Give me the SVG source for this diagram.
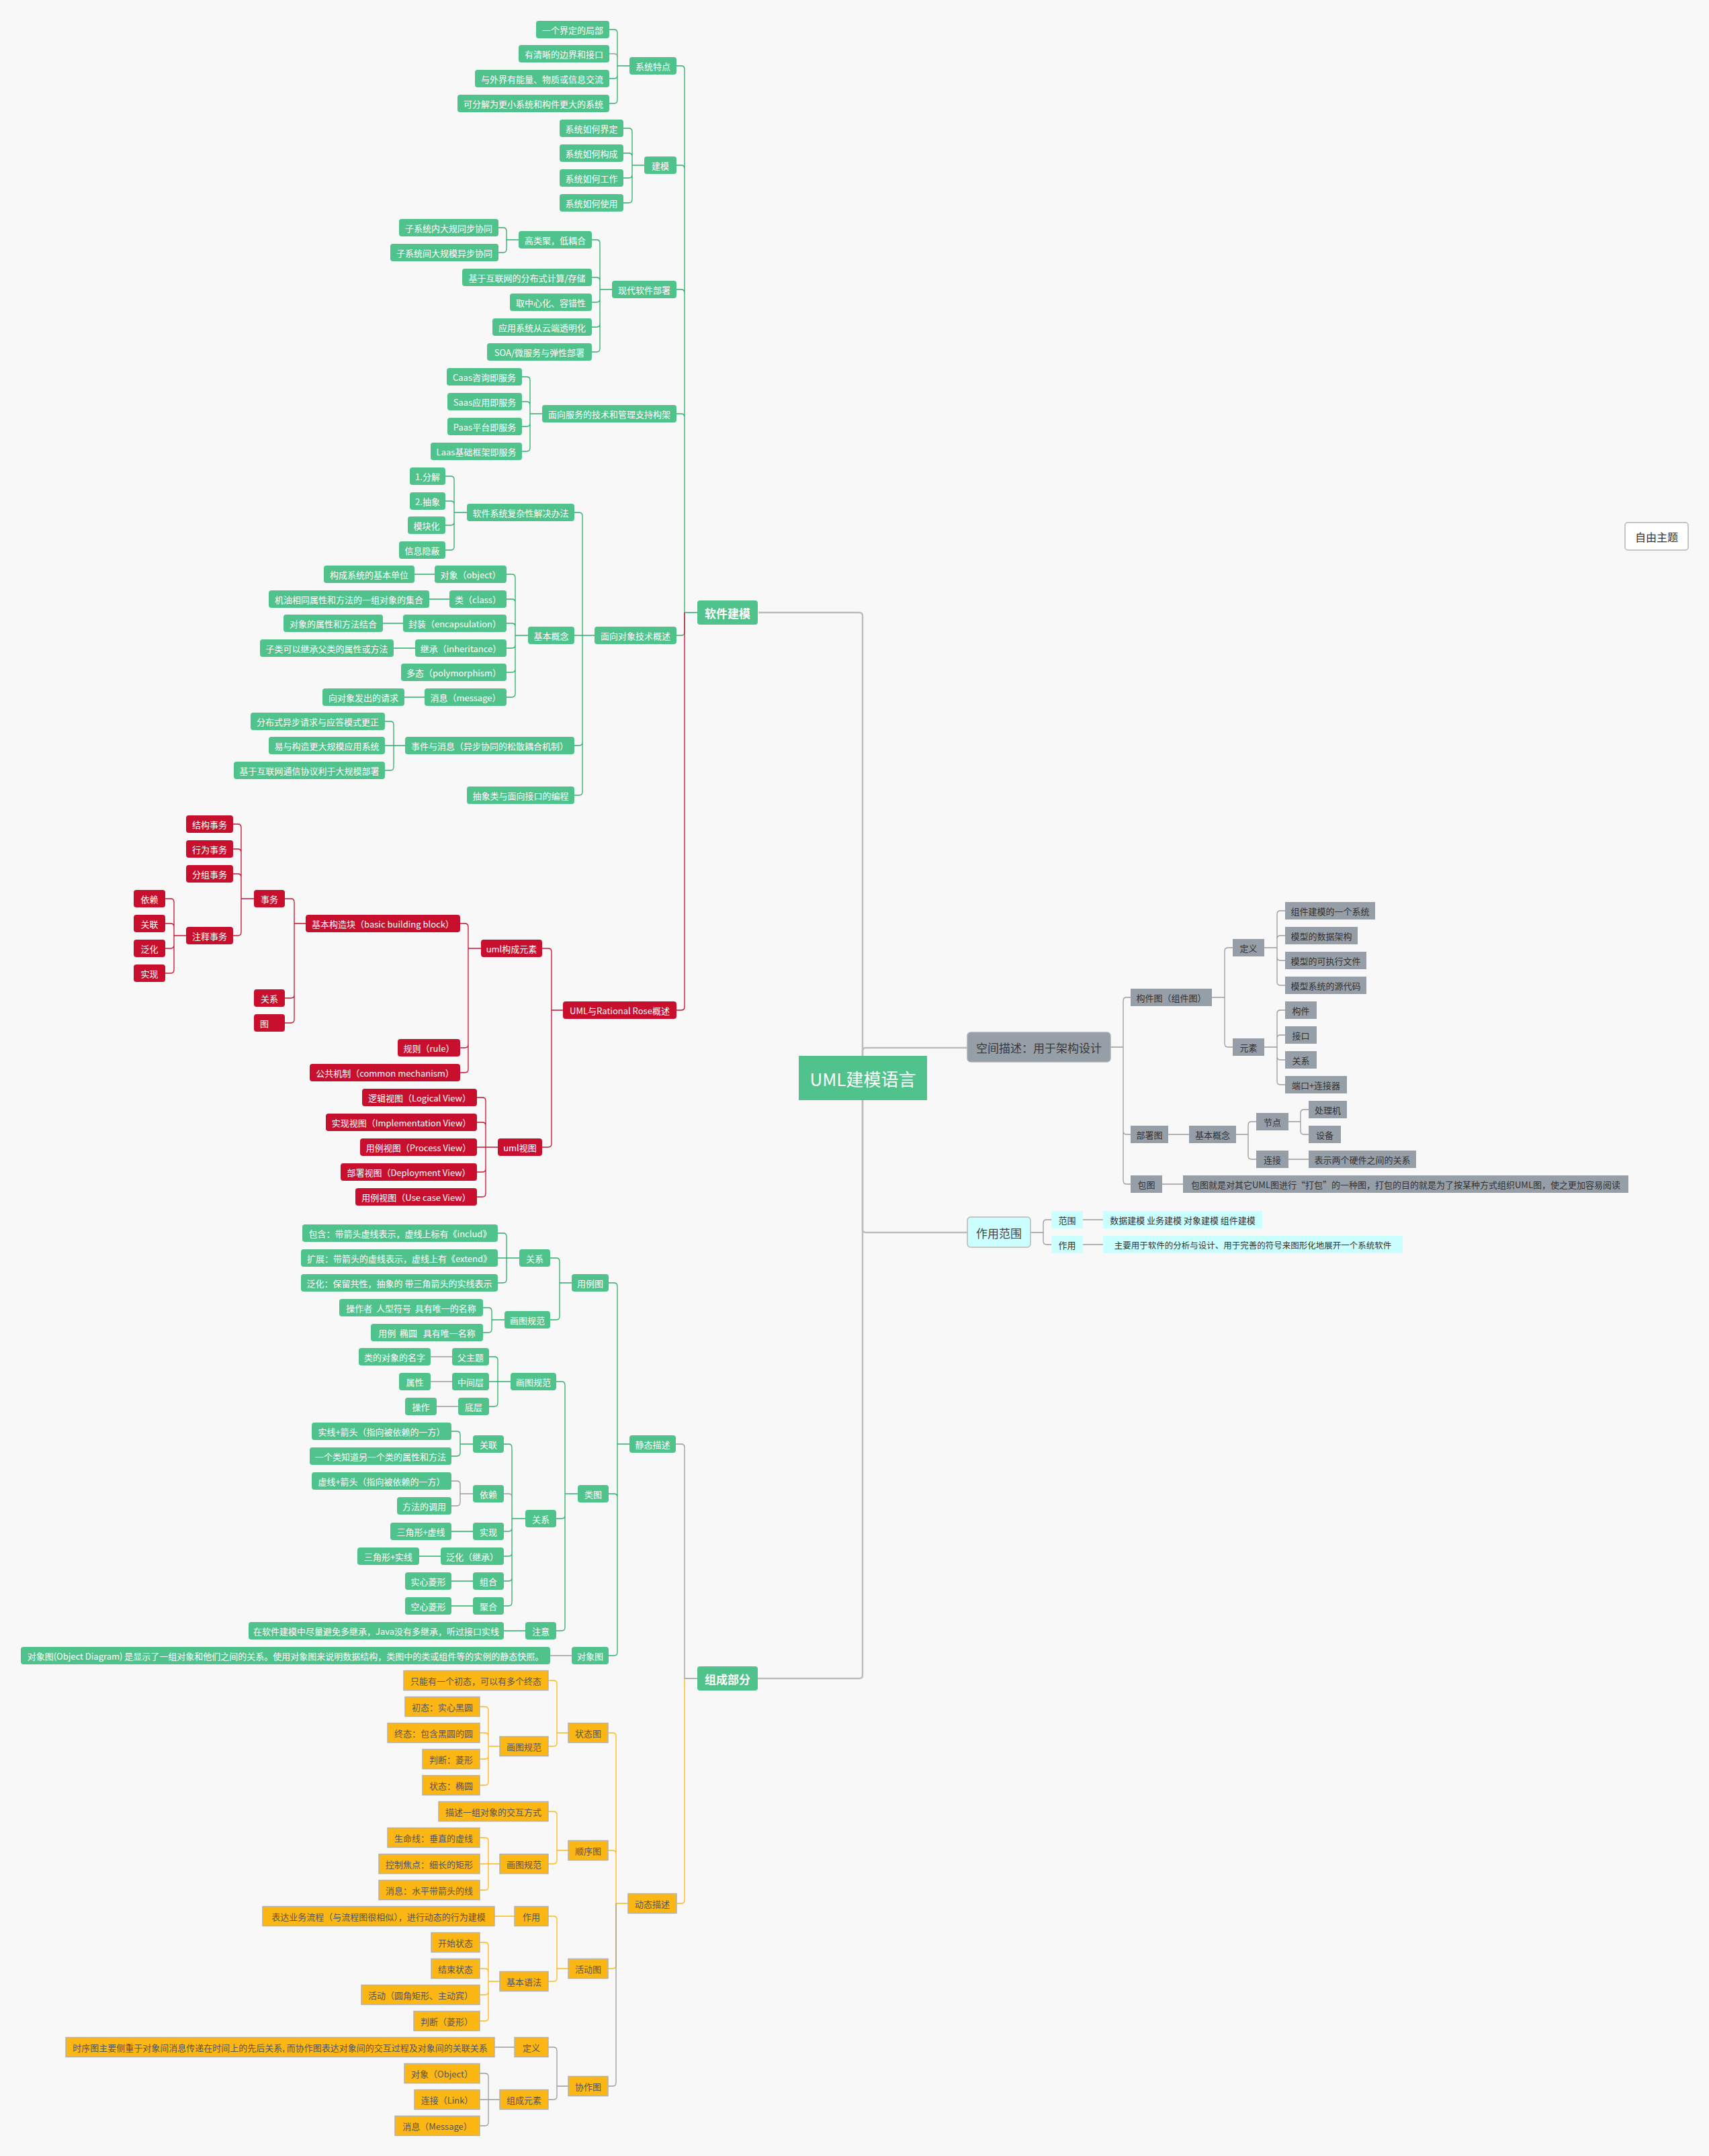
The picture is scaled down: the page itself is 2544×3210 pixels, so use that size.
<svg xmlns="http://www.w3.org/2000/svg" width="2544" height="3210" viewBox="0 0 2544 3210">
<style>
text{font-family:"Noto Sans CJK SC","Microsoft YaHei","Noto Sans",sans-serif;font-size:13px;text-anchor:middle;dominant-baseline:central}
.g{fill:#50c28b}.r{fill:#c8102e}.s{fill:#969ea7}.y{fill:#fdb714;stroke:#b2b2b2;stroke-width:1.5}.c{fill:#ccffff}
.w{fill:#ffffff}.d{fill:#333333}.yt{fill:#555555}
.l{fill:none;stroke-width:1.3}.lg{stroke:#2fae6a}.lr{stroke:#c8102e}.ls{stroke:#9a9a9a}.ly{stroke:#fdb714}
.lt{fill:none;stroke:#bdbdbd;stroke-width:2.5}
.big{font-size:17px}
</style>
<rect width="2544" height="3210" fill="#f8f8f8"/>
<g id="connectors">
<path class="lt" d="M 1129 912 H 1279 Q 1284 912 1284 917 V 2494 Q 1284 2499 1279 2499 H 1128"/>
<path class="lt" d="M 1284 1600 V 1565 Q 1284 1560 1289 1560 H 1440"/>
<path class="lt" d="M 1284 1630 V 1830 Q 1284 1835 1289 1835 H 1440"/>
<path class="l lg" d="M 1038 912 H 1019 M 1019 103 V 941 M 1019 103 Q 1019 98 1014 98 H 1007 M 1019 251 Q 1019 246 1014 246 H 1007 M 1019 436 Q 1019 431 1014 431 H 1007 M 1019 621 Q 1019 616 1014 616 H 1007 M 1019 941 Q 1019 946 1014 946 H 1007"/>
<path class="l lr" d="M 1019 912 V 1499 Q 1019 1504 1014 1504 H 1007"/>
<path class="l lg" d="M 937 98 H 919 M 919 49 V 149 M 919 49 Q 919 44 914 44 H 907 M 919 112 Q 919 117 914 117 H 907 M 919 149 Q 919 154 914 154 H 907"/>
<path class="l ls" d="M 919 85 Q 919 80 914 80 H 907"/>
<path class="l lg" d="M 959 246 H 941 M 941 196 V 297 M 941 196 Q 941 191 936 191 H 928 M 941 233 Q 941 228 936 228 H 928 M 941 260 Q 941 265 936 265 H 928 M 941 297 Q 941 302 936 302 H 928"/>
<path class="l lg" d="M 911 431 H 893 M 893 362 V 519 M 893 362 Q 893 357 888 357 H 881 M 893 418 Q 893 413 888 413 H 881 M 893 445 Q 893 450 888 450 H 881 M 893 482 Q 893 487 888 487 H 881 M 893 519 Q 893 524 888 524 H 881"/>
<path class="l lg" d="M 772 357 H 754 M 754 344 V 371 M 754 344 Q 754 339 749 339 H 742 M 754 371 Q 754 376 749 376 H 742"/>
<path class="l lg" d="M 807 616 H 789 M 789 566 V 667 M 789 566 Q 789 561 784 561 H 777 M 789 603 Q 789 598 784 598 H 777 M 789 630 Q 789 635 784 635 H 777 M 789 667 Q 789 672 784 672 H 777"/>
<path class="l lg" d="M 885 946 H 855 M 867 768 V 1179 M 867 768 Q 867 763 862 763 H 855 M 867 1105 Q 867 1110 862 1110 H 855 M 867 1179 Q 867 1184 862 1184 H 855"/>
<path class="l lg" d="M 695 763 H 676 M 676 714 V 814 M 676 714 Q 676 709 671 709 H 663 M 676 751 Q 676 746 671 746 H 663 M 676 777 Q 676 782 671 782 H 663 M 676 814 Q 676 819 671 819 H 663"/>
<path class="l lg" d="M 786 946 H 767 M 767 860 V 1033 M 767 860 Q 767 855 762 855 H 754 M 767 897 Q 767 892 762 892 H 754 M 767 933 Q 767 928 762 928 H 754 M 767 960 Q 767 965 762 965 H 754 M 767 996 Q 767 1001 762 1001 H 754 M 767 1033 Q 767 1038 762 1038 H 754"/>
<path class="l lg" d="M 647 855 H 617 M 669 892 H 639 M 600 928 H 570 M 618 965 H 586 M 632 1038 H 602"/>
<path class="l lg" d="M 603 1110 H 573 M 586 1079 V 1142 M 586 1079 Q 586 1074 581 1074 H 573 M 586 1142 Q 586 1147 581 1147 H 573"/>
<path class="l lr" d="M 838 1504 H 821 M 821 1417 V 1703 M 821 1417 Q 821 1412 816 1412 H 807 M 821 1703 Q 821 1708 816 1708 H 807"/>
<path class="l lr" d="M 716 1412 H 697 M 697 1380 V 1592 M 697 1380 Q 697 1375 692 1375 H 685 M 697 1555 Q 697 1560 692 1560 H 685 M 697 1592 Q 697 1597 692 1597 H 685"/>
<path class="l lr" d="M 455 1375 H 438 M 438 1343 V 1518 M 438 1343 Q 438 1338 433 1338 H 424 M 438 1481 Q 438 1486 433 1486 H 424 M 438 1518 Q 438 1523 433 1523 H 424"/>
<path class="l lr" d="M 378 1338 H 359 M 359 1232 V 1388 M 359 1232 Q 359 1227 354 1227 H 347 M 359 1269 Q 359 1264 354 1264 H 347 M 359 1306 Q 359 1301 354 1301 H 347 M 359 1388 Q 359 1393 354 1393 H 347"/>
<path class="l lr" d="M 277 1393 H 259 M 259 1343 V 1444 M 259 1343 Q 259 1338 254 1338 H 246 M 259 1380 Q 259 1375 254 1375 H 246 M 259 1407 Q 259 1412 254 1412 H 246 M 259 1444 Q 259 1449 254 1449 H 246"/>
<path class="l lr" d="M 741 1708 H 710 M 723 1639 V 1777 M 723 1639 Q 723 1634 718 1634 H 710 M 723 1676 Q 723 1671 718 1671 H 710 M 723 1740 Q 723 1745 718 1745 H 710 M 723 1777 Q 723 1782 718 1782 H 710"/>
<path class="l ls" d="M 1653 1559 H 1672 M 1672 1490 V 1758 M 1672 1490 Q 1672 1485 1677 1485 H 1683 M 1672 1684 Q 1672 1689 1677 1689 H 1683 M 1672 1758 Q 1672 1763 1677 1763 H 1683"/>
<path class="l ls" d="M 1804 1485 H 1823 M 1823 1416 V 1554 M 1823 1416 Q 1823 1411 1828 1411 H 1835 M 1823 1554 Q 1823 1559 1828 1559 H 1835"/>
<path class="l ls" d="M 1882 1411 H 1901 M 1901 1361 V 1462 M 1901 1361 Q 1901 1356 1906 1356 H 1913 M 1901 1398 Q 1901 1393 1906 1393 H 1913 M 1901 1425 Q 1901 1430 1906 1430 H 1913 M 1901 1462 Q 1901 1467 1906 1467 H 1913"/>
<path class="l ls" d="M 1882 1559 H 1901 M 1901 1509 V 1610 M 1901 1509 Q 1901 1504 1906 1504 H 1913 M 1901 1546 Q 1901 1541 1906 1541 H 1913 M 1901 1573 Q 1901 1578 1906 1578 H 1913 M 1901 1610 Q 1901 1615 1906 1615 H 1913"/>
<path class="l ls" d="M 1739 1689 H 1770 M 1840 1689 H 1858 M 1858 1675 V 1721 M 1858 1675 Q 1858 1670 1863 1670 H 1870 M 1858 1721 Q 1858 1726 1863 1726 H 1870"/>
<path class="l ls" d="M 1918 1670 H 1936 M 1936 1657 V 1684 M 1936 1657 Q 1936 1652 1941 1652 H 1948 M 1936 1684 Q 1936 1689 1941 1689 H 1948 M 1918 1726 H 1948 M 1730 1763 H 1761"/>
<path class="l ls" d="M 1534 1835 H 1553 M 1553 1821 V 1848 M 1553 1821 Q 1553 1816 1558 1816 H 1565 M 1553 1848 Q 1553 1853 1558 1853 H 1565 M 1612 1816 H 1642 M 1612 1853 H 1642"/>
<path class="l ls" d="M 1038 2499 H 1019 V 2155 Q 1019 2150 1014 2150 H 1006"/>
<path class="l ly" d="M 1019 2499 V 2829 Q 1019 2834 1014 2834 H 1007"/>
<path class="l lg" d="M 937 2150 H 919 M 919 1915 V 2460 M 919 1915 Q 919 1910 914 1910 H 906 M 919 2229 Q 919 2224 914 2224 H 906 M 919 2460 Q 919 2465 914 2465 H 906"/>
<path class="l lg" d="M 851 1910 H 833 M 833 1878 V 1960 M 833 1878 Q 833 1873 828 1873 H 819 M 833 1960 Q 833 1965 828 1965 H 819"/>
<path class="l lg" d="M 773 1873 H 741 M 754 1841 V 1905 M 754 1841 Q 754 1836 749 1836 H 741 M 754 1905 Q 754 1910 749 1910 H 741"/>
<path class="l lg" d="M 751 1965 H 732 M 732 1952 V 1979 M 732 1952 Q 732 1947 727 1947 H 719 M 732 1979 Q 732 1984 727 1984 H 719"/>
<path class="l lg" d="M 860 2224 H 841 M 841 2062 V 2423 M 841 2062 Q 841 2057 836 2057 H 828 M 841 2256 Q 841 2261 836 2261 H 828 M 841 2423 Q 841 2428 836 2428 H 828"/>
<path class="l lg" d="M 760 2057 H 728 M 741 2025 V 2089 M 741 2025 Q 741 2020 736 2020 H 728 M 741 2089 Q 741 2094 736 2094 H 728"/>
<path class="l ls" d="M 673 2020 H 641 M 673 2057 H 641 M 682 2094 H 650"/>
<path class="l lg" d="M 782 2261 H 762 M 762 2155 V 2386 M 762 2155 Q 762 2150 757 2150 H 750 M 762 2275 Q 762 2280 757 2280 H 750 M 762 2312 Q 762 2317 757 2317 H 750 M 762 2349 Q 762 2354 757 2354 H 750 M 762 2386 Q 762 2391 757 2391 H 750"/>
<path class="l ls" d="M 762 2229 Q 762 2224 757 2224 H 750"/>
<path class="l lg" d="M 704 2280 H 672 M 656 2317 H 624 M 704 2354 H 672 M 704 2391 H 672 M 782 2428 H 750"/>
<path class="l lg" d="M 704 2150 H 685 M 685 2136 V 2163 M 685 2136 Q 685 2131 680 2131 H 672 M 685 2163 Q 685 2168 680 2168 H 672"/>
<path class="l ls" d="M 704 2224 H 685 M 685 2210 V 2237 M 685 2210 Q 685 2205 680 2205 H 672 M 685 2237 Q 685 2242 680 2242 H 672 M 851 2465 H 819"/>
<path class="l ly" d="M 935 2834 H 917 M 917 2585 V 2926 M 917 2585 Q 917 2580 912 2580 H 905 M 917 2760 Q 917 2755 912 2755 H 905 M 917 2926 Q 917 2931 912 2931 H 905"/>
<path class="l ls" d="M 917 2834 V 3101 Q 917 3106 912 3106 H 905"/>
<path class="l ly" d="M 846 2580 H 829 M 829 2507 V 2595 M 829 2507 Q 829 2502 824 2502 H 816 M 829 2595 Q 829 2600 824 2600 H 816"/>
<path class="l ly" d="M 744 2600 H 727 M 727 2546 V 2653 M 727 2546 Q 727 2541 722 2541 H 714 M 727 2585 Q 727 2580 722 2580 H 714 M 727 2614 Q 727 2619 722 2619 H 714 M 727 2653 Q 727 2658 722 2658 H 714"/>
<path class="l ly" d="M 846 2755 H 829 M 829 2702 V 2770 M 829 2702 Q 829 2697 824 2697 H 816 M 829 2770 Q 829 2775 824 2775 H 816"/>
<path class="l ly" d="M 744 2775 H 714 M 727 2741 V 2809 M 727 2741 Q 727 2736 722 2736 H 714 M 727 2809 Q 727 2814 722 2814 H 714"/>
<path class="l ly" d="M 846 2931 H 829 M 829 2858 V 2945 M 829 2858 Q 829 2853 824 2853 H 816 M 829 2945 Q 829 2950 824 2950 H 816 M 766 2853 H 736"/>
<path class="l ly" d="M 744 2950 H 727 M 727 2897 V 3004 M 727 2897 Q 727 2892 722 2892 H 714 M 727 2936 Q 727 2931 722 2931 H 714 M 727 2965 Q 727 2970 722 2970 H 714 M 727 3004 Q 727 3009 722 3009 H 714"/>
<path class="l ls" d="M 846 3106 H 829 M 829 3053 V 3121 M 829 3053 Q 829 3048 824 3048 H 816 M 829 3121 Q 829 3126 824 3126 H 816 M 766 3048 H 736"/>
<path class="l ls" d="M 744 3126 H 714 M 727 3092 V 3160 M 727 3092 Q 727 3087 722 3087 H 714 M 727 3160 Q 727 3165 722 3165 H 714"/>
</g>
<g id="root"><rect x="1189" y="1572" width="191" height="66" fill="#50c28b"/><text class="w" x="1284.5" y="1605" style="font-size:26px">UML建模语言</text></g>
<g id="free"><rect x="2419" y="778" width="94" height="41" rx="4" fill="#ffffff" stroke="#b5b5b5" stroke-width="1.5"/><text class="d" x="2466" y="798.5" style="font-size:16px">自由主题</text></g>
<g id="b-rjjm"><rect class="g" x="1038" y="894" width="90" height="36" rx="4"/><text class="w big" x="1083" y="912" font-weight="bold">软件建模</text></g>
<g id="b-zcbf"><rect class="g" x="1038" y="2481" width="90" height="36" rx="4"/><text class="w big" x="1083" y="2499" font-weight="bold">组成部分</text></g>
<g id="b-kjms"><rect x="1440" y="1537" width="213" height="44" rx="5" fill="#969ea7" stroke="#a9b0b8" stroke-width="1.5"/><text class="big" x="1546.5" y="1559" fill="#3a3a3a">空间描述：用于架构设计</text></g>
<g id="b-zyfw"><rect x="1440" y="1812" width="94" height="45" rx="5" fill="#ccffff" stroke="#b8b8b8" stroke-width="1.5"/><text class="big" x="1487" y="1835" fill="#444444">作用范围</text></g>
<g id="green-top">
<g id="n1"><rect class="g" x="937" y="85" width="70" height="26" rx="4"/><text class="w" x="972" y="98">系统特点</text></g>
<g id="n2"><rect class="g" x="798" y="31" width="109" height="26" rx="4"/><text class="w" x="852.5" y="44">一个界定的局部</text></g>
<g id="n3"><rect class="g" x="772" y="67" width="135" height="26" rx="4"/><text class="w" x="839.5" y="80">有清晰的边界和接口</text></g>
<g id="n4"><rect class="g" x="707" y="104" width="200" height="26" rx="4"/><text class="w" x="807" y="117">与外界有能量、物质或信息交流</text></g>
<g id="n5"><rect class="g" x="681" y="141" width="226" height="26" rx="4"/><text class="w" x="794" y="154">可分解为更小系统和构件更大的系统</text></g>
<g id="n6"><rect class="g" x="959" y="233" width="48" height="26" rx="4"/><text class="w" x="983" y="246">建模</text></g>
<g id="n7"><rect class="g" x="833" y="178" width="95" height="26" rx="4"/><text class="w" x="880.5" y="191">系统如何界定</text></g>
<g id="n8"><rect class="g" x="833" y="215" width="95" height="26" rx="4"/><text class="w" x="880.5" y="228">系统如何构成</text></g>
<g id="n9"><rect class="g" x="833" y="252" width="95" height="26" rx="4"/><text class="w" x="880.5" y="265">系统如何工作</text></g>
<g id="n10"><rect class="g" x="833" y="289" width="95" height="26" rx="4"/><text class="w" x="880.5" y="302">系统如何使用</text></g>
<g id="n11"><rect class="g" x="911" y="418" width="96" height="26" rx="4"/><text class="w" x="959" y="431">现代软件部署</text></g>
<g id="n12"><rect class="g" x="772" y="344" width="109" height="26" rx="4"/><text class="w" x="826.5" y="357">高类聚，低耦合</text></g>
<g id="n13"><rect class="g" x="594" y="326" width="148" height="26" rx="4"/><text class="w" x="668" y="339">子系统内大规同步协同</text></g>
<g id="n14"><rect class="g" x="581" y="363" width="161" height="26" rx="4"/><text class="w" x="661.5" y="376">子系统间大规模异步协同</text></g>
<g id="n15"><rect class="g" x="688" y="400" width="193" height="26" rx="4"/><text class="w" x="784.5" y="413">基于互联网的分布式计算/存储</text></g>
<g id="n16"><rect class="g" x="759" y="437" width="122" height="26" rx="4"/><text class="w" x="820" y="450">取中心化、容错性</text></g>
<g id="n17"><rect class="g" x="733" y="474" width="148" height="26" rx="4"/><text class="w" x="807" y="487">应用系统从云端透明化</text></g>
<g id="n18"><rect class="g" x="725" y="511" width="156" height="26" rx="4"/><text class="w" x="803" y="524">SOA/微服务与弹性部署</text></g>
<g id="n19"><rect class="g" x="807" y="603" width="200" height="26" rx="4"/><text class="w" x="907" y="616">面向服务的技术和管理支持构架</text></g>
<g id="n20"><rect class="g" x="665" y="548" width="112" height="26" rx="4"/><text class="w" x="721" y="561">Caas咨询即服务</text></g>
<g id="n21"><rect class="g" x="666" y="585" width="111" height="26" rx="4"/><text class="w" x="721.5" y="598">Saas应用即服务</text></g>
<g id="n22"><rect class="g" x="666" y="622" width="111" height="26" rx="4"/><text class="w" x="721.5" y="635">Paas平台即服务</text></g>
<g id="n23"><rect class="g" x="641" y="659" width="136" height="26" rx="4"/><text class="w" x="709" y="672">Laas基础框架即服务</text></g>
<g id="n24"><rect class="g" x="885" y="933" width="122" height="26" rx="4"/><text class="w" x="946" y="946">面向对象技术概述</text></g>
<g id="n25"><rect class="g" x="695" y="750" width="160" height="26" rx="4"/><text class="w" x="775" y="763">软件系统复杂性解决办法</text></g>
<g id="n26"><rect class="g" x="610" y="696" width="53" height="26" rx="4"/><text class="w" x="636.5" y="709">1.分解</text></g>
<g id="n27"><rect class="g" x="610" y="733" width="53" height="26" rx="4"/><text class="w" x="636.5" y="746">2.抽象</text></g>
<g id="n28"><rect class="g" x="607" y="769" width="56" height="26" rx="4"/><text class="w" x="635" y="782">模块化</text></g>
<g id="n29"><rect class="g" x="594" y="806" width="69" height="26" rx="4"/><text class="w" x="628.5" y="819">信息隐蔽</text></g>
<g id="n30"><rect class="g" x="786" y="933" width="69" height="26" rx="4"/><text class="w" x="820.5" y="946">基本概念</text></g>
<g id="n31"><rect class="g" x="647" y="842" width="107" height="26" rx="4"/><text class="w" x="700.5" y="855">对象（object）</text></g>
<g id="n32"><rect class="g" x="482" y="842" width="135" height="26" rx="4"/><text class="w" x="549.5" y="855">构成系统的基本单位</text></g>
<g id="n33"><rect class="g" x="669" y="879" width="85" height="26" rx="4"/><text class="w" x="711.5" y="892">类（class）</text></g>
<g id="n34"><rect class="g" x="400" y="879" width="239" height="26" rx="4"/><text class="w" x="519.5" y="892">机油相同属性和方法的一组对象的集合</text></g>
<g id="n35"><rect class="g" x="600" y="915" width="154" height="26" rx="4"/><text class="w" x="677" y="928">封装（encapsulation）</text></g>
<g id="n36"><rect class="g" x="422" y="915" width="148" height="26" rx="4"/><text class="w" x="496" y="928">对象的属性和方法结合</text></g>
<g id="n37"><rect class="g" x="618" y="952" width="136" height="26" rx="4"/><text class="w" x="686" y="965">继承（inheritance）</text></g>
<g id="n38"><rect class="g" x="387" y="952" width="199" height="26" rx="4"/><text class="w" x="486.5" y="965">子类可以继承父类的属性或方法</text></g>
<g id="n39"><rect class="g" x="597" y="988" width="157" height="26" rx="4"/><text class="w" x="675.5" y="1001">多态（polymorphism）</text></g>
<g id="n40"><rect class="g" x="632" y="1025" width="122" height="26" rx="4"/><text class="w" x="693" y="1038">消息（message）</text></g>
<g id="n41"><rect class="g" x="480" y="1025" width="122" height="26" rx="4"/><text class="w" x="541" y="1038">向对象发出的请求</text></g>
<g id="n42"><rect class="g" x="603" y="1097" width="252" height="26" rx="4"/><text class="w" x="729" y="1110">事件与消息（异步协同的松散耦合机制）</text></g>
<g id="n43"><rect class="g" x="373" y="1061" width="200" height="26" rx="4"/><text class="w" x="473" y="1074">分布式异步请求与应答模式更正</text></g>
<g id="n44"><rect class="g" x="400" y="1097" width="173" height="26" rx="4"/><text class="w" x="486.5" y="1110">易与构造更大规模应用系统</text></g>
<g id="n45"><rect class="g" x="348" y="1134" width="225" height="26" rx="4"/><text class="w" x="460.5" y="1147">基于互联网通信协议利于大规模部署</text></g>
<g id="n46"><rect class="g" x="695" y="1171" width="160" height="26" rx="4"/><text class="w" x="775" y="1184">抽象类与面向接口的编程</text></g>
</g>
<g id="red">
<g id="n47"><rect class="r" x="838" y="1491" width="169" height="26" rx="4"/><text class="w" x="922.5" y="1504">UML与Rational Rose概述</text></g>
<g id="n48"><rect class="r" x="716" y="1399" width="91" height="26" rx="4"/><text class="w" x="761.5" y="1412">uml构成元素</text></g>
<g id="n49"><rect class="r" x="455" y="1362" width="230" height="26" rx="4"/><text class="w" x="570" y="1375">基本构造块（basic building block）</text></g>
<g id="n50"><rect class="r" x="378" y="1325" width="46" height="26" rx="4"/><text class="w" x="401" y="1338">事务</text></g>
<g id="n51"><rect class="r" x="277" y="1214" width="70" height="26" rx="4"/><text class="w" x="312" y="1227">结构事务</text></g>
<g id="n52"><rect class="r" x="277" y="1251" width="70" height="26" rx="4"/><text class="w" x="312" y="1264">行为事务</text></g>
<g id="n53"><rect class="r" x="277" y="1288" width="70" height="26" rx="4"/><text class="w" x="312" y="1301">分组事务</text></g>
<g id="n54"><rect class="r" x="277" y="1380" width="70" height="26" rx="4"/><text class="w" x="312" y="1393">注释事务</text></g>
<g id="n55"><rect class="r" x="199" y="1325" width="47" height="26" rx="4"/><text class="w" x="222.5" y="1338">依赖</text></g>
<g id="n56"><rect class="r" x="199" y="1362" width="47" height="26" rx="4"/><text class="w" x="222.5" y="1375">关联</text></g>
<g id="n57"><rect class="r" x="199" y="1399" width="47" height="26" rx="4"/><text class="w" x="222.5" y="1412">泛化</text></g>
<g id="n58"><rect class="r" x="199" y="1436" width="47" height="26" rx="4"/><text class="w" x="222.5" y="1449">实现</text></g>
<g id="n59"><rect class="r" x="378" y="1473" width="46" height="26" rx="4"/><text class="w" x="401" y="1486">关系</text></g>
<g id="n60"><rect class="r" x="378" y="1510" width="46" height="26" rx="4"/><text class="w" x="387" y="1523" style="text-anchor:start">图</text></g>
<g id="n61"><rect class="r" x="592" y="1547" width="93" height="26" rx="4"/><text class="w" x="638.5" y="1560">规则（rule）</text></g>
<g id="n62"><rect class="r" x="461" y="1584" width="224" height="26" rx="4"/><text class="w" x="573" y="1597">公共机制（common mechanism）</text></g>
<g id="n63"><rect class="r" x="741" y="1695" width="66" height="26" rx="4"/><text class="w" x="774" y="1708">uml视图</text></g>
<g id="n64"><rect class="r" x="539" y="1621" width="171" height="26" rx="4"/><text class="w" x="624.5" y="1634">逻辑视图（Logical View）</text></g>
<g id="n65"><rect class="r" x="485" y="1658" width="225" height="26" rx="4"/><text class="w" x="597.5" y="1671">实现视图（Implementation View）</text></g>
<g id="n66"><rect class="r" x="536" y="1695" width="174" height="26" rx="4"/><text class="w" x="623" y="1708">用例视图（Process View）</text></g>
<g id="n67"><rect class="r" x="507" y="1732" width="203" height="26" rx="4"/><text class="w" x="608.5" y="1745">部署视图（Deployment View）</text></g>
<g id="n68"><rect class="r" x="529" y="1769" width="181" height="26" rx="4"/><text class="w" x="619.5" y="1782">用例视图（Use case View）</text></g>
</g>
<g id="grey">
<g id="n70"><rect class="s" x="1683" y="1472" width="121" height="26"/><text class="d" x="1743.5" y="1485">构件图（组件图）</text></g>
<g id="n71"><rect class="s" x="1835" y="1398" width="47" height="26"/><text class="d" x="1858.5" y="1411">定义</text></g>
<g id="n72"><rect class="s" x="1913" y="1343" width="134" height="26"/><text class="d" x="1980" y="1356">组件建模的一个系统</text></g>
<g id="n73"><rect class="s" x="1913" y="1380" width="108" height="26"/><text class="d" x="1967" y="1393">模型的数据架构</text></g>
<g id="n74"><rect class="s" x="1913" y="1417" width="121" height="26"/><text class="d" x="1973.5" y="1430">模型的可执行文件</text></g>
<g id="n75"><rect class="s" x="1913" y="1454" width="121" height="26"/><text class="d" x="1973.5" y="1467">模型系统的源代码</text></g>
<g id="n76"><rect class="s" x="1835" y="1546" width="47" height="26"/><text class="d" x="1858.5" y="1559">元素</text></g>
<g id="n77"><rect class="s" x="1913" y="1491" width="47" height="26"/><text class="d" x="1936.5" y="1504">构件</text></g>
<g id="n78"><rect class="s" x="1913" y="1528" width="47" height="26"/><text class="d" x="1936.5" y="1541">接口</text></g>
<g id="n79"><rect class="s" x="1913" y="1565" width="47" height="26"/><text class="d" x="1936.5" y="1578">关系</text></g>
<g id="n80"><rect class="s" x="1913" y="1602" width="92" height="26"/><text class="d" x="1959" y="1615">端口+连接器</text></g>
<g id="n81"><rect class="s" x="1683" y="1676" width="56" height="26"/><text class="d" x="1711" y="1689">部署图</text></g>
<g id="n82"><rect class="s" x="1770" y="1676" width="70" height="26"/><text class="d" x="1805" y="1689">基本概念</text></g>
<g id="n83"><rect class="s" x="1870" y="1657" width="48" height="26"/><text class="d" x="1894" y="1670">节点</text></g>
<g id="n84"><rect class="s" x="1948" y="1639" width="57" height="26"/><text class="d" x="1976.5" y="1652">处理机</text></g>
<g id="n85"><rect class="s" x="1948" y="1676" width="48" height="26"/><text class="d" x="1972" y="1689">设备</text></g>
<g id="n86"><rect class="s" x="1870" y="1713" width="48" height="26"/><text class="d" x="1894" y="1726">连接</text></g>
<g id="n87"><rect class="s" x="1948" y="1713" width="160" height="26"/><text class="d" x="2028" y="1726">表示两个硬件之间的关系</text></g>
<g id="n88"><rect class="s" x="1683" y="1750" width="47" height="26"/><text class="d" x="1706.5" y="1763">包图</text></g>
<g id="n89"><rect class="s" x="1761" y="1750" width="663" height="26"/><text class="d" x="2092.5" y="1763">包图就是对其它UML图进行“打包”的一种图，打包的目的就是为了按某种方式组织UML图，使之更加容易阅读</text></g>
</g>
<g id="cyan">
<g id="n91"><rect class="c" x="1565" y="1803" width="47" height="26"/><text class="d" x="1588.5" y="1816">范围</text></g>
<g id="n92"><rect class="c" x="1642" y="1803" width="237" height="26"/><text class="d" x="1760.5" y="1816">数据建模 业务建模 对象建模 组件建模</text></g>
<g id="n93"><rect class="c" x="1565" y="1840" width="47" height="26"/><text class="d" x="1588.5" y="1853">作用</text></g>
<g id="n94"><rect class="c" x="1642" y="1840" width="446" height="26"/><text class="d" x="1865" y="1853" style="font-size:12.5px">主要用于软件的分析与设计、用于完善的符号来图形化地展开一个系统软件</text></g>
</g>
<g id="green-static">
<g id="n99"><rect class="g" x="937" y="2137" width="69" height="26" rx="4"/><text class="w" x="971.5" y="2150">静态描述</text></g>
<g id="n100"><rect class="g" x="851" y="1897" width="55" height="26" rx="4"/><text class="w" x="878.5" y="1910">用例图</text></g>
<g id="n101"><rect class="g" x="773" y="1860" width="46" height="26" rx="4"/><text class="w" x="796" y="1873">关系</text></g>
<g id="n102"><rect class="g" x="450" y="1823" width="291" height="26" rx="4"/><text class="w" x="595.5" y="1836">包含：带箭头虚线表示，虚线上标有《includ》</text></g>
<g id="n103"><rect class="g" x="448" y="1860" width="293" height="26" rx="4"/><text class="w" x="594.5" y="1873">扩展：带箭头的虚线表示，虚线上有《extend》</text></g>
<g id="n104"><rect class="g" x="448" y="1897" width="293" height="26" rx="4"/><text class="w" x="594.5" y="1910">泛化：保留共性，抽象的 带三角箭头的实线表示</text></g>
<g id="n105"><rect class="g" x="751" y="1952" width="68" height="26" rx="4"/><text class="w" x="785" y="1965">画图规范</text></g>
<g id="n106"><rect class="g" x="505" y="1934" width="214" height="26" rx="4"/><text class="w" x="612" y="1947">操作者&#160; 人型符号&#160; 具有唯一的名称</text></g>
<g id="n107"><rect class="g" x="552" y="1971" width="167" height="26" rx="4"/><text class="w" x="635.5" y="1984">用例&#160; 椭圆&#160;&#160; 具有唯一名称</text></g>
<g id="n108"><rect class="g" x="860" y="2211" width="46" height="26" rx="4"/><text class="w" x="883" y="2224">类图</text></g>
<g id="n109"><rect class="g" x="760" y="2044" width="68" height="26" rx="4"/><text class="w" x="794" y="2057">画图规范</text></g>
<g id="n110"><rect class="g" x="673" y="2007" width="55" height="26" rx="4"/><text class="w" x="700.5" y="2020">父主题</text></g>
<g id="n111"><rect class="g" x="534" y="2007" width="107" height="26" rx="4"/><text class="w" x="587.5" y="2020">类的对象的名字</text></g>
<g id="n112"><rect class="g" x="673" y="2044" width="55" height="26" rx="4"/><text class="w" x="700.5" y="2057">中间层</text></g>
<g id="n113"><rect class="g" x="594" y="2044" width="47" height="26" rx="4"/><text class="w" x="617.5" y="2057">属性</text></g>
<g id="n114"><rect class="g" x="682" y="2081" width="46" height="26" rx="4"/><text class="w" x="705" y="2094">底层</text></g>
<g id="n115"><rect class="g" x="603" y="2081" width="47" height="26" rx="4"/><text class="w" x="626.5" y="2094">操作</text></g>
<g id="n116"><rect class="g" x="782" y="2248" width="46" height="26" rx="4"/><text class="w" x="805" y="2261">关系</text></g>
<g id="n117"><rect class="g" x="704" y="2137" width="46" height="26" rx="4"/><text class="w" x="727" y="2150">关联</text></g>
<g id="n118"><rect class="g" x="464" y="2118" width="208" height="26" rx="4"/><text class="w" x="568" y="2131">实线+箭头（指向被依赖的一方）</text></g>
<g id="n119"><rect class="g" x="461" y="2155" width="211" height="26" rx="4"/><text class="w" x="566.5" y="2168">一个类知道另一个类的属性和方法</text></g>
<g id="n120"><rect class="g" x="704" y="2211" width="46" height="26" rx="4"/><text class="w" x="727" y="2224">依赖</text></g>
<g id="n121"><rect class="g" x="464" y="2192" width="208" height="26" rx="4"/><text class="w" x="568" y="2205">虚线+箭头（指向被依赖的一方）</text></g>
<g id="n122"><rect class="g" x="591" y="2229" width="81" height="26" rx="4"/><text class="w" x="631.5" y="2242">方法的调用</text></g>
<g id="n123"><rect class="g" x="704" y="2267" width="46" height="26" rx="4"/><text class="w" x="727" y="2280">实现</text></g>
<g id="n124"><rect class="g" x="581" y="2267" width="91" height="26" rx="4"/><text class="w" x="626.5" y="2280">三角形+虚线</text></g>
<g id="n125"><rect class="g" x="656" y="2304" width="94" height="26" rx="4"/><text class="w" x="703" y="2317">泛化（继承）</text></g>
<g id="n126"><rect class="g" x="532" y="2304" width="92" height="26" rx="4"/><text class="w" x="578" y="2317">三角形+实线</text></g>
<g id="n127"><rect class="g" x="704" y="2341" width="46" height="26" rx="4"/><text class="w" x="727" y="2354">组合</text></g>
<g id="n128"><rect class="g" x="603" y="2341" width="69" height="26" rx="4"/><text class="w" x="637.5" y="2354">实心菱形</text></g>
<g id="n129"><rect class="g" x="704" y="2378" width="46" height="26" rx="4"/><text class="w" x="727" y="2391">聚合</text></g>
<g id="n130"><rect class="g" x="603" y="2378" width="69" height="26" rx="4"/><text class="w" x="637.5" y="2391">空心菱形</text></g>
<g id="n131"><rect class="g" x="782" y="2415" width="46" height="26" rx="4"/><text class="w" x="805" y="2428">注意</text></g>
<g id="n132"><rect class="g" x="370" y="2415" width="380" height="26" rx="4"/><text class="w" x="560" y="2428">在软件建模中尽量避免多继承，Java没有多继承，听过接口实线</text></g>
<g id="n133"><rect class="g" x="851" y="2452" width="55" height="26" rx="4"/><text class="w" x="878.5" y="2465">对象图</text></g>
<g id="n134"><rect class="g" x="31" y="2452" width="788" height="26" rx="4"/><text class="w" x="425" y="2465">对象图(Object Diagram) 是显示了一组对象和他们之间的关系。使用对象图来说明数据结构，类图中的类或组件等的实例的静态快照。</text></g>
</g>
<g id="yellow">
<g id="n135"><rect class="y" x="935" y="2819.5" width="72" height="29"/><text class="yt" x="971" y="2834">动态描述</text></g>
<g id="n136"><rect class="y" x="846" y="2565.5" width="59" height="29"/><text class="yt" x="875.5" y="2580">状态图</text></g>
<g id="n137"><rect class="y" x="601" y="2487.5" width="215" height="29"/><text class="yt" x="708.5" y="2502">只能有一个初态，可以有多个终态</text></g>
<g id="n138"><rect class="y" x="744" y="2585.5" width="72" height="29"/><text class="yt" x="780" y="2600">画图规范</text></g>
<g id="n139"><rect class="y" x="603" y="2526.5" width="111" height="29"/><text class="yt" x="658.5" y="2541">初态：实心黑圆</text></g>
<g id="n140"><rect class="y" x="577" y="2565.5" width="137" height="29"/><text class="yt" x="645.5" y="2580">终态：包含黑圆的圆</text></g>
<g id="n141"><rect class="y" x="629" y="2604.5" width="85" height="29"/><text class="yt" x="671.5" y="2619">判断：菱形</text></g>
<g id="n142"><rect class="y" x="629" y="2643.5" width="85" height="29"/><text class="yt" x="671.5" y="2658">状态：椭圆</text></g>
<g id="n143"><rect class="y" x="846" y="2740.5" width="59" height="29"/><text class="yt" x="875.5" y="2755">顺序图</text></g>
<g id="n144"><rect class="y" x="653" y="2682.5" width="163" height="29"/><text class="yt" x="734.5" y="2697">描述一组对象的交互方式</text></g>
<g id="n145"><rect class="y" x="744" y="2760.5" width="72" height="29"/><text class="yt" x="780" y="2775">画图规范</text></g>
<g id="n146"><rect class="y" x="577" y="2721.5" width="137" height="29"/><text class="yt" x="645.5" y="2736">生命线：垂直的虚线</text></g>
<g id="n147"><rect class="y" x="564" y="2760.5" width="150" height="29"/><text class="yt" x="639" y="2775">控制焦点：细长的矩形</text></g>
<g id="n148"><rect class="y" x="564" y="2799.5" width="150" height="29"/><text class="yt" x="639" y="2814">消息：水平带箭头的线</text></g>
<g id="n149"><rect class="y" x="846" y="2916.5" width="59" height="29"/><text class="yt" x="875.5" y="2931">活动图</text></g>
<g id="n150"><rect class="y" x="766" y="2838.5" width="50" height="29"/><text class="yt" x="791" y="2853">作用</text></g>
<g id="n151"><rect class="y" x="391" y="2838.5" width="345" height="29"/><text class="yt" x="563.5" y="2853">表达业务流程（与流程图很相似），进行动态的行为建模</text></g>
<g id="n152"><rect class="y" x="744" y="2935.5" width="72" height="29"/><text class="yt" x="780" y="2950">基本语法</text></g>
<g id="n153"><rect class="y" x="642" y="2877.5" width="72" height="29"/><text class="yt" x="678" y="2892">开始状态</text></g>
<g id="n154"><rect class="y" x="642" y="2916.5" width="72" height="29"/><text class="yt" x="678" y="2931">结束状态</text></g>
<g id="n155"><rect class="y" x="538" y="2955.5" width="176" height="29"/><text class="yt" x="626" y="2970">活动（圆角矩形、主动宾）</text></g>
<g id="n156"><rect class="y" x="616" y="2994.5" width="98" height="29"/><text class="yt" x="665" y="3009">判断（菱形）</text></g>
<g id="n157"><rect class="y" x="846" y="3091.5" width="59" height="29"/><text class="yt" x="875.5" y="3106">协作图</text></g>
<g id="n158"><rect class="y" x="766" y="3033.5" width="50" height="29"/><text class="yt" x="791" y="3048">定义</text></g>
<g id="n159"><rect class="y" x="98" y="3033.5" width="638" height="29"/><text class="yt" x="417" y="3048">时序图主要侧重于对象间消息传递在时间上的先后关系, 而协作图表达对象间的交互过程及对象间的关联关系</text></g>
<g id="n160"><rect class="y" x="744" y="3111.5" width="72" height="29"/><text class="yt" x="780" y="3126">组成元素</text></g>
<g id="n161"><rect class="y" x="602" y="3072.5" width="112" height="29"/><text class="yt" x="658" y="3087">对象（Object）</text></g>
<g id="n162"><rect class="y" x="617" y="3111.5" width="97" height="29"/><text class="yt" x="665.5" y="3126">连接（Link）</text></g>
<g id="n163"><rect class="y" x="588" y="3150.5" width="126" height="29"/><text class="yt" x="651" y="3165">消息（Message）</text></g>
</g>
</svg>
